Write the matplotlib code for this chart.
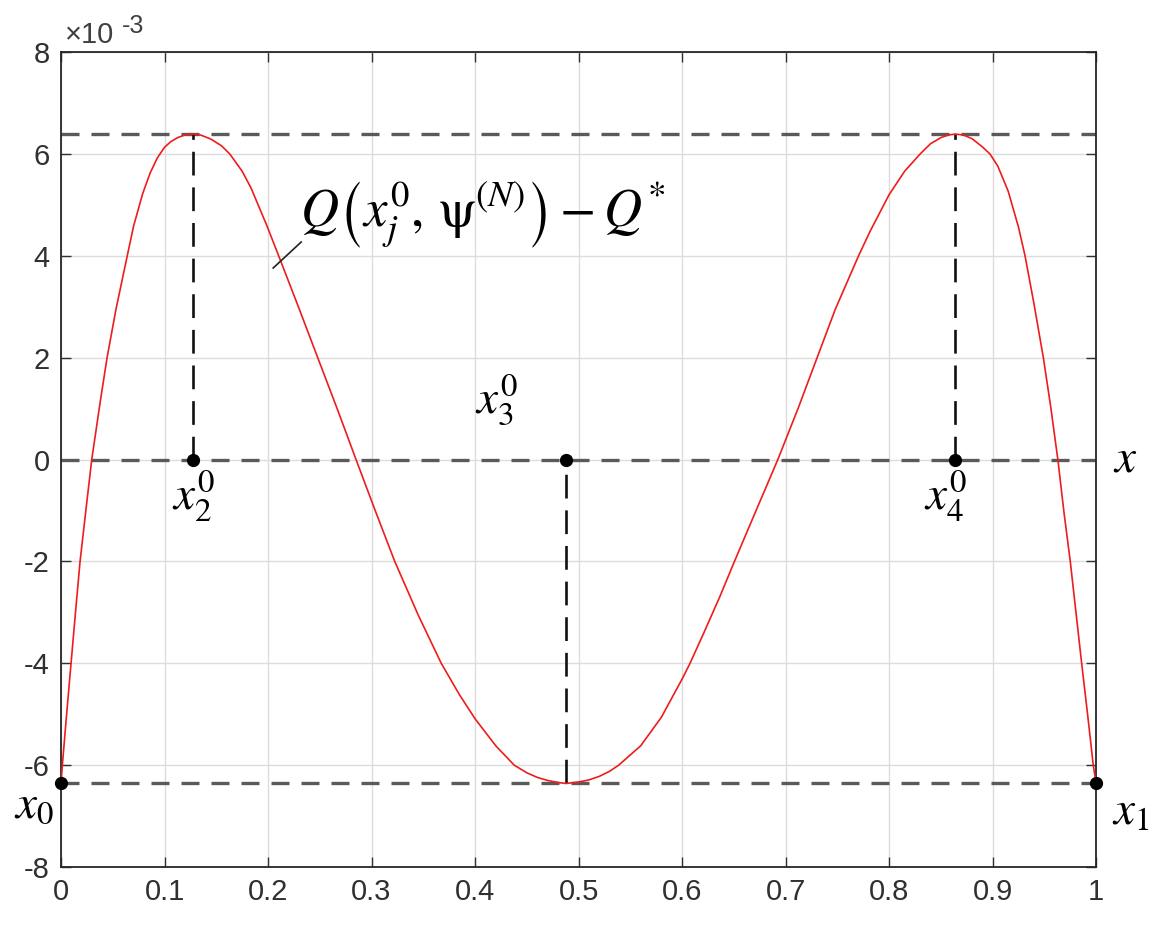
import matplotlib
matplotlib.use("Agg")
import matplotlib.pyplot as plt
from matplotlib.ticker import FuncFormatter

plt.rcParams['font.family'] = ['Liberation Sans', 'DejaVu Sans']
plt.rcParams['mathtext.fontset'] = 'stix'
plt.rcParams['axes.unicode_minus'] = False

# Curve (y in units of 1e-3)
curve_x = [0.0, 0.0013, 0.005, 0.0097, 0.014, 0.0184, 0.024, 0.0297, 0.038,
           0.0445, 0.0531, 0.064, 0.0702, 0.0789, 0.086, 0.093, 0.1, 0.106, 0.1127,
           0.12, 0.1272, 0.135, 0.1449, 0.155, 0.163, 0.175, 0.1836, 0.1987,
           0.2093, 0.2293, 0.248, 0.2673, 0.285, 0.3035, 0.3224, 0.345, 0.3673,
           0.385, 0.4, 0.42, 0.4378, 0.45, 0.46, 0.47, 0.48, 0.488, 0.5, 0.51,
           0.52, 0.53, 0.5388, 0.56, 0.58, 0.6, 0.6077, 0.6215, 0.6365, 0.6506,
           0.6715, 0.6925, 0.712, 0.7295, 0.748, 0.7705, 0.7816, 0.8, 0.815,
           0.83, 0.84, 0.85, 0.857, 0.864, 0.872, 0.88, 0.89, 0.8974, 0.905,
           0.915, 0.925, 0.9313, 0.94, 0.949, 0.956, 0.963, 0.969, 0.975,
           0.9805, 0.986, 0.992, 0.9972, 1.0]
curve_y = [-6.36, -6.0, -5.1, -4.0, -3.0, -2.0, -1.0, 0.0, 1.15,
           2.0, 2.95, 4.0, 4.59, 5.22, 5.62, 5.92, 6.13, 6.24, 6.32,
           6.375, 6.39, 6.37, 6.29, 6.16, 6.0, 5.66, 5.33, 4.6,
           4.05, 3.0, 2.0, 0.97, 0.0, -1.0, -2.0, -3.05, -4.0,
           -4.62, -5.09, -5.62, -6.0, -6.15, -6.24, -6.3, -6.34, -6.36, -6.33, -6.29,
           -6.22, -6.12, -6.0, -5.62, -5.06, -4.31, -4.0, -3.38, -2.69, -2.0,
           -1.0, 0.0, 1.0, 1.95, 2.95, 4.0, 4.48, 5.2, 5.66,
           6.0, 6.2, 6.32, 6.37, 6.39, 6.37, 6.3, 6.14, 6.0, 5.76,
           5.27, 4.56, 4.0, 3.05, 2.0, 1.05, 0.0, -1.05, -2.0,
           -3.0, -4.0, -5.05, -6.0, -6.36]

level_hi = 6.39
level_lo = -6.36
extrema_x = [0.1275, 0.488, 0.864]   # x2, x3, x4
end_x = [0.0, 1.0]                   # x0, x1
scale = 1e-3

x_ticks = [0, 0.1, 0.2, 0.3, 0.4, 0.5, 0.6, 0.7, 0.8, 0.9, 1]
y_ticks = [-8, -6, -4, -2, 0, 2, 4, 6, 8]

fig = plt.figure(figsize=(11.49, 9.26), dpi=100)
ax = fig.add_axes([0.0531, 0.0637, 0.9009, 0.8801])

ax.set_xlim(0, 1)
ax.set_ylim(-8 * scale, 8 * scale)
ax.set_xticks(x_ticks)
ax.set_yticks([v * scale for v in y_ticks])
ax.xaxis.set_major_formatter(FuncFormatter(lambda v, p: f"{v:g}"))
ax.yaxis.set_major_formatter(FuncFormatter(lambda v, p: f"{round(v / scale):d}"))
ax.grid(True, color='#dcdcdc', lw=1.0)
ax.set_axisbelow(True)
ax.tick_params(direction='in', length=7, width=1.0, top=True, right=True,
               labelsize=21, colors='#303030', pad=8)
for s in ax.spines.values():
    s.set_color('#262626')
    s.set_linewidth(1.3)

dash_h = (0, (5.4, 3.6))
gray = '#5a5a5a'
for lv in [level_hi, 0.0, level_lo]:
    ax.axhline(lv * scale, color=gray, lw=2.4, ls=dash_h, zorder=2)

dash_v = (0, (9.0, 4.5))
ax.plot([extrema_x[0]] * 2, [0, level_hi * scale], color='#111111', lw=1.9, ls=dash_v, zorder=3)
ax.plot([extrema_x[1]] * 2, [level_lo * scale, 0], color='#111111', lw=1.9, ls=dash_v, zorder=3)
ax.plot([extrema_x[2]] * 2, [0, level_hi * scale], color='#111111', lw=1.9, ls=dash_v, zorder=3)

ax.plot(curve_x, [v * scale for v in curve_y], color='#ee1c1c', lw=1.2, zorder=4)

ax.plot(extrema_x, [0, 0, 0], 'o', color='black', ms=8.5, zorder=5, clip_on=False)
ax.plot(end_x, [level_lo * scale] * 2, 'o', color='black', ms=8.5, zorder=5, clip_on=False)

fs = 34
ax.text(extrema_x[0], -0.15 * scale, r'$x_2^0$', fontsize=fs, ha='center', va='top')
ax.text(0.421, 1.17 * scale, r'$x_3^0$', fontsize=fs, ha='center', va='center')
ax.text(0.854, -0.15 * scale, r'$x_4^0$', fontsize=fs, ha='center', va='top')
ax.text(1.028, 0.0, r'$x$', fontsize=fs, ha='center', va='center', clip_on=False)
ax.text(-0.026, -6.79 * scale, r'$x_0$', fontsize=fs, ha='center', va='center', clip_on=False)
ax.text(1.033, -6.93 * scale, r'$x_1$', fontsize=fs, ha='center', va='center', clip_on=False)

ax.text(0.231, 4.8 * scale, r'$Q\left(x_j^0,\,\mathrm{\psi}^{(N)}\right)-Q^{*}$', fontsize=38,
        ha='left', va='center')
ax.plot([0.205, 0.232], [3.76 * scale, 4.27 * scale], color='#222222', lw=1.2, zorder=4)

ax.text(0.004, 1.011, '\u00d710', transform=ax.transAxes, fontsize=21,
        color='#404040', ha='left', va='baseline')
ax.text(0.059, 1.0233, '-3', transform=ax.transAxes, fontsize=18,
        color='#404040', ha='left', va='baseline')

fig.savefig('out.png', dpi=100)
